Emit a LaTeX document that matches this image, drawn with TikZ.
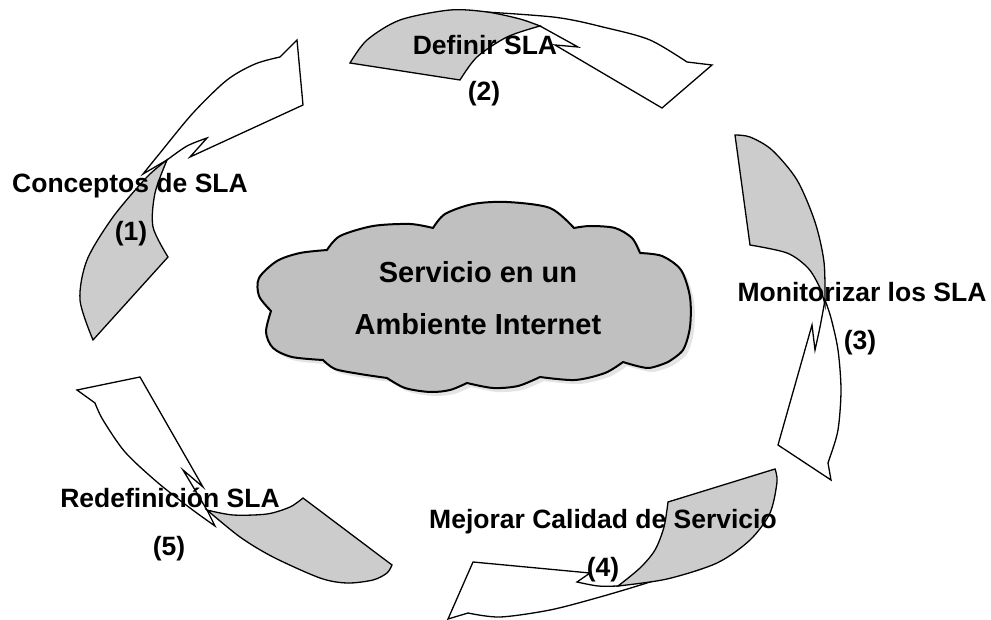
\documentclass[tikz,border=0pt]{standalone}
\usepackage{fontspec}
\setmainfont{Liberation Sans}
\definecolor{argrey}{RGB}{204,204,204}
\definecolor{cloudgrey}{RGB}{192,192,192}
\definecolor{shadowgrey}{RGB}{228,228,228}
\newcommand{\mycloudpath}{(327,250) -- plot[smooth] coordinates {(327,250) (340,236) (373,226) (410,224) (433,228)} -- plot[smooth] coordinates {(433,228) (445,214) (473,204) (507,202) (550,208) (574,228)} -- plot[smooth] coordinates {(574,228) (590,226) (615,228) (632,238) (640,253)} -- plot[smooth] coordinates {(640,253) (662,256) (681,270) (690,297) (690,327) (683,350) (668,362)} -- plot[smooth] coordinates {(668,362) (648,368) (623,362)} -- plot[smooth] coordinates {(623,362) (605,373) (575,380) (540,377)} -- plot[smooth] coordinates {(540,377) (518,386) (493,388) (467,383)} -- plot[smooth] coordinates {(467,383) (450,390) (430,392) (405,388) (387,378)} -- plot[smooth] coordinates {(387,378) (360,374) (335,369) (323,360)} -- plot[smooth] coordinates {(323,360) (292,357) (273,348) (266,332) (271,311)} -- plot[smooth] coordinates {(271,311) (259,296) (259,278) (277,261) (300,253) (327,250)} -- cycle}
\begin{document}
\begin{tikzpicture}[x=1pt,y=-1pt,
  arrowwhite/.style={fill=white, draw=black, line width=1.3pt, line join=miter},
  arrowgrey/.style={fill=argrey, draw=black, line width=1.3pt, line join=miter},
  cloudshape/.style={fill=cloudgrey, draw=black, line width=2pt, line join=round},
  lbl/.style={font=\fontsize{26.5}{30}\selectfont\bfseries, anchor=base, inner sep=0pt},
  cloudlbl/.style={font=\fontsize{29}{32}\selectfont\bfseries, anchor=base, inner sep=0pt}]
\useasboundingbox (0,0) rectangle (991,620);

% ---- cloud ----
\fill[shadowgrey, shift={(4,4)}] \mycloudpath;
\path[cloudshape] \mycloudpath;

% ---- arrow 1 (left) ----
\path[arrowwhite] (280,57) -- (297,40) -- (303,105) -- (190,157) -- (207,138)
  -- plot[smooth] coordinates {(207,138) (187,146) (167,160)} -- (143,174)
  -- plot[smooth] coordinates {(143,174) (160,153) (193,113) (227,80) (255,64) (280,57)} -- cycle;
\path[arrowgrey] (167,160) -- plot[smooth] coordinates {(167,160) (147,177) (113,217) (87,260) (80,300) (93,340)}
  -- (168,257) -- plot[smooth] coordinates {(168,257) (153,227) (155,193) (167,160)} -- cycle;

% ---- arrow 2 (top) ----
\path[arrowwhite] (452,10) -- plot[smooth] coordinates {(452,10) (553,17) (607,28) (650,40) (687,62)}
  -- (712,65) -- (662,108) -- (555,45) -- (578,47) -- (540,26) -- cycle;
\path[arrowgrey] (350,63) -- plot[smooth] coordinates {(350,63) (367,40) (400,20) (450,10) (487,12) (520,19) (540,26)}
  -- plot[smooth] coordinates {(540,26) (507,37) (477,57) (460,80)} -- cycle;

% ---- arrow 3 (right) ----
\path[arrowwhite] (825,300) -- plot[smooth] coordinates {(825,300) (831,318) (838,350) (841,390) (838,430) (830,457)}
  -- (828,463) -- (831,480) -- (778,445) -- (812,325) -- (815,350)
  -- plot[smooth] coordinates {(815,350) (820,327) (825,300)} -- cycle;
\path[arrowgrey] (735,135) -- plot[smooth] coordinates {(735,135) (750,137) (772,150) (797,180) (815,222) (824,262) (825,305)}
  -- plot[smooth] coordinates {(825,305) (820,288) (808,268) (787,253) (750,245)} -- cycle;

% ---- arrow 4 (bottom) ----
\path[arrowwhite] (618,586) -- plot[smooth] coordinates {(618,586) (598,586) (577,582)}
  -- (590,573) -- (473,562) -- (448,619) -- (468,613)
  -- plot[smooth] coordinates {(468,613) (500,617) (550,610) (600,597) (650,582) (700,565)} -- cycle;
\path[arrowgrey] (668,502) -- (775,469)
  -- plot[smooth] coordinates {(775,469) (777,482) (770,513) (750,540) (717,563) (667,579) (618,586)}
  -- plot[smooth] coordinates {(618,586) (640,568) (655,550) (664,527) (668,502)} -- cycle;

% ---- arrow 5 (bottom left) ----
\path[arrowwhite] (77,390) -- (140,377) -- (203,487) -- (183,470) -- (207,510) -- (215,526)
  -- plot[smooth] coordinates {(215,526) (190,508) (157,482) (125,452) (103,420) (95,403)} -- cycle;
\path[arrowgrey] (207,510) -- plot[smooth] coordinates {(207,510) (233,515) (267,514) (290,507) (303,498)}
  -- (392,565) -- plot[smooth] coordinates {(392,565) (387,573) (373,580) (347,583) (320,578) (273,557) (240,537) (207,510)} -- cycle;

% ---- labels ----
\node[lbl] (t1) at (130,193) {Conceptos de SLA};
\node[lbl] (n1) at (131,241) {(1)};
\node[lbl] (t2) at (485,55) {Definir SLA};
\node[lbl] (n2) at (484,101) {(2)};
\node[lbl] (t3) at (862,302) {Monitorizar los SLA};
\node[lbl] (n3) at (860,350) {(3)};
\node[lbl] (t4) at (603,528) {Mejorar Calidad de Servicio};
\node[lbl] (n4) at (603,576) {(4)};
\node[lbl] (t5) at (170,507) {Redefinición SLA};
\node[lbl] (n5) at (169,555) {(5)};
\node[cloudlbl] (c1) at (478,283) {Servicio en un};
\node[cloudlbl] (c2) at (478,335) {Ambiente Internet};
\end{tikzpicture}
\end{document}
